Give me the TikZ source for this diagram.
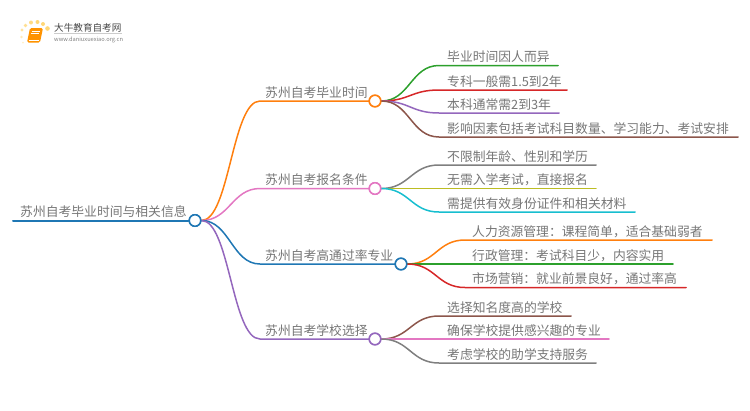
\documentclass[tikz,border=0pt]{standalone}
\usepackage{fontspec}
\setmainfont{Noto Sans CJK SC}
\usetikzlibrary{calc}
\definecolor{cOrange}{HTML}{FF7F0E}
\definecolor{cPink}{HTML}{E377C2}
\definecolor{cBlue}{HTML}{1F77B4}
\definecolor{cPurple}{HTML}{9467BD}
\definecolor{cGreen}{HTML}{2CA02C}
\definecolor{cRed}{HTML}{D62728}
\definecolor{cBrown}{HTML}{8C564B}
\definecolor{cGray}{HTML}{7F7F7F}
\definecolor{cOlive}{HTML}{BCBD22}
\definecolor{cCyan}{HTML}{17BECF}
\definecolor{txt}{HTML}{767676}
\definecolor{dotc}{HTML}{FFD777}
\tikzset{
  txtlabel/.style={anchor=base west,inner sep=0pt,text=txt,font=\fontsize{12.8}{13}\selectfont},
  hub/.style={circle,draw=#1,fill=white,line width=1.5pt,minimum size=11.5pt,inner sep=0pt},
  link/.style={draw=#1,line width=1.5pt,line cap=round}
}
% name, parent, colour, line start x, line end x, y, text x, text
\newcommand{\leafitem}[8]{%
  \coordinate (#1-s) at (#4,#6);
  \coordinate (#1-e) at (#5,#6);
  \path[link=#3] (#2.east) .. controls ($(#2.east)+(28,0)$) and ($(#1-s)+(-28,0)$) .. (#1-s) -- (#1-e);
  \node[txtlabel] (#1) at (#7,#6-4) {#8};
}
\begin{document}
\begin{tikzpicture}[x=1pt,y=-1pt]
\useasboundingbox (0,0) rectangle (750,410);
% logo
\foreach \px/\py/\pr/\po in {21.5/37/1.3/.5, 22/30/1.7/.7, 25.5/25.5/1.9/.8, 31/22.5/2/.9, 37.5/22/2/1, 43/24/2/1, 47.5/28.5/2.3/1, 23/42.5/1/.4}
  \fill[dotc,opacity=\po] (\px,\py) circle (\pr);
\fill[orange!85!yellow,rounded corners=1.5pt] (30,28) -- (43,28) -- (40,42.5) -- (27,42.5) -- cycle;
\draw[white,line width=.6pt] (31.5,31) -- (39.5,31) (31,33.5) -- (39,33.5);
\draw[white,line width=.5pt] (28.5,40) -- (39,40);
\node[anchor=base west,inner sep=0pt,text=black!72,font=\fontsize{9.6}{10}\selectfont] (logotitle) at (54,31) {大牛教育自考网};
\draw[black!20,line width=.5pt] (54,33.5) -- (122,33.5);
\node[anchor=base west,inner sep=0pt,text=black!50,font=\fontsize{5.7}{6}\selectfont] (logourl) at (54,41) {www.daniuxuexiao.org.cn};

% root and hubs
\coordinate (root-s) at (13,220.5);
\node[hub=cBlue] (root) at (195,220.5) {};
\node[hub=cOrange] (b1) at (375,101) {};
\node[hub=cPink] (b2) at (375,188.5) {};
\node[hub=cBlue] (b3) at (401,264) {};
\node[hub=cPurple] (b4) at (375,339) {};

% leaves of branch 1
\leafitem{l11}{b1}{cGreen}{439}{558}{65.5}{447}{毕业时间因人而异}
\leafitem{l12}{b1}{cRed}{439}{567}{90}{447}{专科一般需1.5到2年}
\leafitem{l13}{b1}{cPurple}{439}{559}{113}{447}{本科通常需2到3年}
\leafitem{l14}{b1}{cBrown}{439}{738}{137}{447}{影响因素包括考试科目数量、学习能力、考试安排}
% branch 2
\leafitem{l21}{b2}{cGray}{439}{596}{165}{447}{不限制年龄、性别和学历}
\leafitem{l22}{b2}{cOlive}{439}{596}{188.5}{447}{无需入学考试，直接报名}
\leafitem{l23}{b2}{cCyan}{439}{635}{212}{447}{需提供有效身份证件和相关材料}
% branch 3
\leafitem{l31}{b3}{cOrange}{465}{712}{240}{472}{人力资源管理：课程简单，适合基础弱者}
\leafitem{l32}{b3}{cGreen}{465}{673}{264}{472}{行政管理：考试科目少，内容实用}
\leafitem{l33}{b3}{cRed}{465}{686}{287.5}{472}{市场营销：就业前景良好，通过率高}
% branch 4
\leafitem{l41}{b4}{cBrown}{439}{571}{316}{447}{选择知名度高的学校}
\leafitem{l42}{b4}{cPink}{439}{609}{339}{447}{确保学校提供感兴趣的专业}
\leafitem{l43}{b4}{cGray}{439}{596}{363}{447}{考虑学校的助学支持服务}

% main branches
\leafitem{m1}{root}{cOrange}{260}{369}{101}{265}{苏州自考毕业时间}
\leafitem{m2}{root}{cPink}{260}{369}{188.5}{265}{苏州自考报名条件}
\leafitem{m3}{root}{cBlue}{260}{395}{264}{265}{苏州自考高通过率专业}
\leafitem{m4}{root}{cPurple}{260}{369}{339}{265}{苏州自考学校选择}

\path[link=cBlue,line width=2pt] (root-s) -- (root.west);
\node[txtlabel] (roottext) at (20,216.5) {苏州自考毕业时间与相关信息};
% redraw hubs above the connectors
\node[hub=cBlue] at (root) {};
\node[hub=cOrange] at (b1) {};
\node[hub=cPink] at (b2) {};
\node[hub=cBlue] at (b3) {};
\node[hub=cPurple] at (b4) {};
\end{tikzpicture}
\end{document}
